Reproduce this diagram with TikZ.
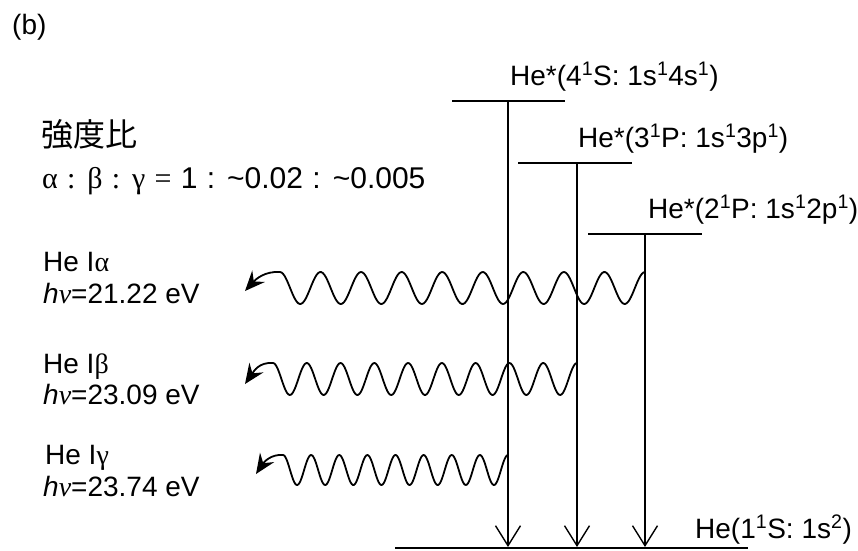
\documentclass[tikz,border=0pt]{standalone}
\usepackage{fontspec}
\setmainfont{Liberation Sans}
\newfontfamily\cjk{Noto Sans CJK JP}
\newfontfamily\grk{Liberation Serif}
\usetikzlibrary{arrows.meta,positioning}

\newcommand{\sps}[1]{\textsuperscript{#1}}

\begin{document}
\begin{tikzpicture}[x=1pt,y=-1pt,
statebar/.style={line width=2.8pt},
trans/.style={line width=1.4pt,-{Straight Barb[length=20pt,width=25pt]}},
photon/.style={line width=1.8pt,-{Stealth[length=20pt,width=17pt,inset=7pt]}},
lbl/.style={anchor=base west,inner sep=0pt,font=\fontsize{28}{32}\selectfont},
]
\useasboundingbox (0,0) rectangle (858,550);

% panel mark and ratio
\node[lbl] (panel) at (12,34) {(b)};
\node[lbl,font=\fontsize{32}{34}\cjk] (ratio) at (41,146) {強度比};
\node[lbl,font=\fontsize{30}{34}\selectfont] (ratiov) at (42,188)
  {\spaceskip=9.3pt {\grk α : β : γ =} 1 : \textasciitilde0.02 : \textasciitilde0.005};

% levels
\draw[statebar] (452,101) -- (565,101);
\draw[statebar] (518,163) -- (632,163);
\draw[statebar] (588,234) -- (702,234);
\draw[statebar] (395,548) -- (748,548);

\node[lbl] (s4l) at (510,85) {He*(4\sps{1}S: 1s\sps{1}4s\sps{1})};
\node[lbl] (s3l) at (578,147) {He*(3\sps{1}P: 1s\sps{1}3p\sps{1})};
\node[lbl] (s2l) at (648,218) {He*(2\sps{1}P: 1s\sps{1}2p\sps{1})};
\node[lbl] (gl) at (695,538) {He(1\sps{1}S: 1s\sps{2})};

% transitions
\coordinate (u4) at (508,101);
\coordinate (u3) at (577,163);
\coordinate (u2) at (645,234);
\coordinate (g4) at (508,547);
\coordinate (g3) at (577,547);
\coordinate (g2) at (645,547);
\draw[trans] (u4) -- (g4);
\draw[trans] (u3) -- (g3);
\draw[trans] (u2) -- (g2);

% emitted light
\draw[photon] plot[domain=0:3240,samples=240,smooth] ({645-\x/360*40.56},{288-16*cos(\x)})
  .. controls (265,271) and (256,279) .. (245,291);
\draw[photon] plot[domain=0:3240,samples=240,smooth] ({577-\x/360*33.78},{379-16*cos(\x)})
  .. controls (259,362) and (254,371) .. (245,384);
\draw[photon] plot[domain=0:2880,samples=220,smooth] ({508-\x/360*28.125},{470-15*cos(\x)})
  .. controls (271,454) and (264,462) .. (256,474);

\node[lbl] (a1) at (43,271) {He I{\grk α}};
\node[lbl] (a2) at (43,303) {\textit{h}{\grk\itshape ν}=21.22 eV};
\node[lbl] (b1) at (43,373) {He I{\grk β}};
\node[lbl] (b2) at (43,404) {\textit{h}{\grk\itshape ν}=23.09 eV};
\node[lbl] (c1) at (45,464) {He I{\grk γ}};
\node[lbl] (c2) at (43,496) {\textit{h}{\grk\itshape ν}=23.74 eV};
\end{tikzpicture}
\end{document}
